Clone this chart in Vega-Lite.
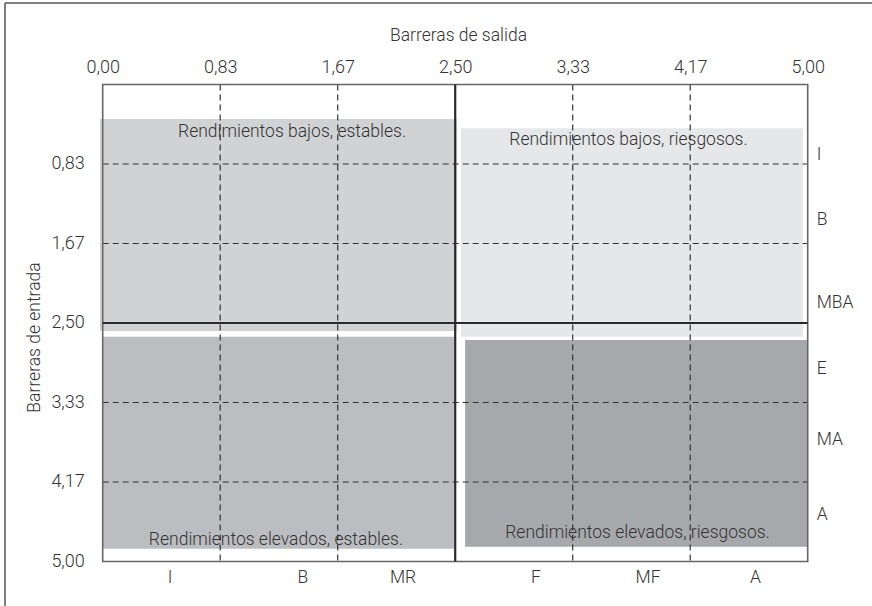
{
  "$schema": "https://vega.github.io/schema/vega-lite/v6.json",
  "autosize": "none",
  "padding": {"left": 5, "top": 3, "right": 0, "bottom": 0},
  "width": 867,
  "height": 603,
  "background": "white",
  "config": {
    "view": {"stroke": null},
    "font": "Roboto",
    "text": {"font": "Roboto", "fontWeight": 300, "color": "#333333"}
  },
  "datasets": {
    "regiones": [
      {"zona": "bajos_estables", "x": -0.019, "x2": 2.511, "y": 0.362, "y2": 2.584},
      {"zona": "bajos_riesgosos", "x": 2.541, "x2": 4.967, "y": 0.459, "y2": 2.644},
      {"zona": "elevados_estables", "x": 0, "x2": 2.491, "y": 2.644, "y2": 4.866},
      {"zona": "elevados_riesgosos", "x": 2.57, "x2": 4.997, "y": 2.678, "y2": 4.845}
    ],
    "verticales": [
      {"x": 0.8333, "y": 0, "y2": 5},
      {"x": 1.6667, "y": 0, "y2": 5},
      {"x": 3.3333, "y": 0, "y2": 5},
      {"x": 4.1667, "y": 0, "y2": 5}
    ],
    "horizontales": [
      {"x": 0, "x2": 5, "y": 0.8333},
      {"x": 0, "x2": 5, "y": 1.6667},
      {"x": 0, "x2": 5, "y": 3.3333},
      {"x": 0, "x2": 5, "y": 4.1667}
    ],
    "centroV": [{"x": 2.5, "y": 0, "y2": 5}],
    "centroH": [{"x": 0, "x2": 5, "y": 2.5}],
    "marco": [{"x": 0, "x2": 5, "y": 0, "y2": 5}],
    "bordeV": [{"x": -0.6929, "y": -0.8543, "y2": 5.4665}],
    "bordeH": [{"x": -0.6929, "x2": 5.456, "y": -0.8543}],
    "etiquetas": [
      {"texto": "Rendimientos bajos, estables.", "x": 1.343, "y": 0.498},
      {"texto": "Rendimientos bajos, riesgosos.", "x": 3.729, "y": 0.582},
      {"texto": "Rendimientos elevados, estables.", "x": 1.229, "y": 4.775},
      {"texto": "Rendimientos elevados, riesgosos.", "x": 3.793, "y": 4.701},
      {"texto": "I", "x": 0.477, "y": 5.173},
      {"texto": "B", "x": 1.42, "y": 5.173},
      {"texto": "MR", "x": 2.13, "y": 5.173},
      {"texto": "F", "x": 3.073, "y": 5.173},
      {"texto": "MF", "x": 3.868, "y": 5.173},
      {"texto": "A", "x": 4.63, "y": 5.173}
    ],
    "derecha": [
      {"texto": "I", "x": 5.064, "y": 0.739},
      {"texto": "B", "x": 5.064, "y": 1.42},
      {"texto": "MBA", "x": 5.064, "y": 2.29},
      {"texto": "E", "x": 5.064, "y": 2.982},
      {"texto": "MA", "x": 5.064, "y": 3.726},
      {"texto": "A", "x": 5.064, "y": 4.512}
    ]
  },
  "encoding": {
    "x": {
      "field": "x",
      "type": "quantitative",
      "scale": {"domain": [-0.6929, 5.456], "nice": false, "zero": false},
      "axis": {
        "orient": "top",
        "offset": -81.5,
        "values": [0, 0.8333, 1.6667, 2.5, 3.3333, 4.1667, 5],
        "labelExpr": "replace(format(datum.value, '.2f'), '.', ',')",
        "domain": false,
        "ticks": false,
        "tickSize": 0,
        "grid": false,
        "labelPadding": 11.8,
        "labelBaseline": "alphabetic",
        "labelFont": "Roboto",
        "labelFontWeight": 300,
        "labelFontSize": 18,
        "labelColor": "#333333",
        "labelFlush": false,
        "labelOverlap": false,
        "title": "Barreras de salida",
        "titleFont": "Roboto",
        "titleFontWeight": 300,
        "titleFontSize": 17.5,
        "titleColor": "#333333",
        "titleX": 453,
        "titleY": -44.5,
        "titleAlign": "center",
        "titleBaseline": "alphabetic"
      }
    },
    "y": {
      "field": "y",
      "type": "quantitative",
      "scale": {"domain": [-0.8543, 5.4665], "nice": false, "zero": false, "reverse": true},
      "axis": {
        "orient": "left",
        "offset": -97.7,
        "values": [0.8333, 1.6667, 2.5, 3.3333, 4.1667, 5],
        "labelExpr": "replace(format(datum.value, '.2f'), '.', ',')",
        "domain": false,
        "ticks": false,
        "tickSize": 0,
        "grid": false,
        "labelPadding": 18.4,
        "labelFont": "Roboto",
        "labelFontWeight": 300,
        "labelFontSize": 18,
        "labelColor": "#333333",
        "labelFlush": false,
        "labelOverlap": false,
        "title": "Barreras de entrada",
        "titleFont": "Roboto",
        "titleFontWeight": 300,
        "titleFontSize": 17.5,
        "titleColor": "#333333",
        "titleAngle": -90,
        "titleX": -62.7,
        "titleY": 334,
        "titleAlign": "center",
        "titleBaseline": "alphabetic"
      }
    }
  },
  "layer": [
    {
      "data": {"name": "regiones"},
      "mark": {"type": "rect"},
      "encoding": {
        "x2": {"field": "x2"},
        "y2": {"field": "y2"},
        "fill": {
          "field": "zona",
          "type": "nominal",
          "scale": {
            "domain": ["bajos_estables", "bajos_riesgosos", "elevados_estables", "elevados_riesgosos"],
            "range": ["#d1d2d4", "#e6e7e9", "#bcbdc0", "#a7a8ab"]
          },
          "legend": null
        }
      }
    },
    {
      "data": {"name": "verticales"},
      "mark": {"type": "rule", "color": "#333333", "strokeWidth": 1.2, "strokeDash": [6, 4]},
      "encoding": {"y2": {"field": "y2"}}
    },
    {
      "data": {"name": "horizontales"},
      "mark": {"type": "rule", "color": "#333333", "strokeWidth": 1.2, "strokeDash": [6, 4]},
      "encoding": {"x2": {"field": "x2"}}
    },
    {
      "data": {"name": "marco"},
      "mark": {"type": "rect", "fill": null, "fillOpacity": 0, "stroke": "#666666", "strokeWidth": 1.6},
      "encoding": {"x2": {"field": "x2"}, "y2": {"field": "y2"}}
    },
    {
      "data": {"name": "centroV"},
      "mark": {"type": "rule", "color": "#2a2a2a", "strokeWidth": 2.2},
      "encoding": {"y2": {"field": "y2"}}
    },
    {
      "data": {"name": "centroH"},
      "mark": {"type": "rule", "color": "#2a2a2a", "strokeWidth": 2.2},
      "encoding": {"x2": {"field": "x2"}}
    },
    {
      "data": {"name": "bordeV"},
      "mark": {"type": "rule", "color": "#555555", "strokeWidth": 1.5},
      "encoding": {"y2": {"field": "y2"}}
    },
    {
      "data": {"name": "bordeH"},
      "mark": {"type": "rule", "color": "#555555", "strokeWidth": 1.5},
      "encoding": {"x2": {"field": "x2"}}
    },
    {
      "data": {"name": "etiquetas"},
      "mark": {"type": "text", "align": "center", "baseline": "middle", "fontSize": 17.5, "fontWeight": 300, "color": "#333333"},
      "encoding": {"text": {"field": "texto", "type": "nominal"}}
    },
    {
      "data": {"name": "derecha"},
      "mark": {"type": "text", "align": "left", "baseline": "middle", "fontSize": 17.5, "fontWeight": 300, "color": "#333333"},
      "encoding": {"text": {"field": "texto", "type": "nominal"}}
    }
  ]
}
